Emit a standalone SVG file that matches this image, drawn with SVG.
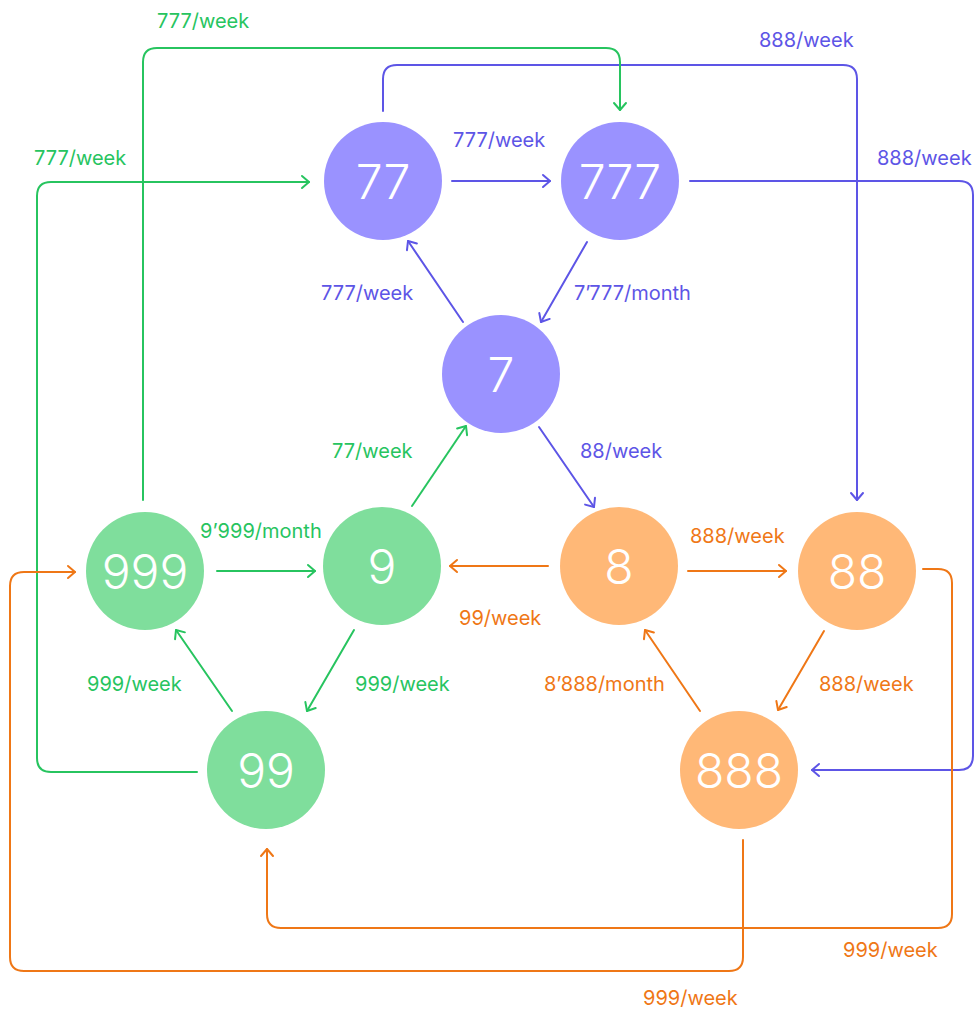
<svg xmlns="http://www.w3.org/2000/svg" width="975" height="1010" viewBox="0 0 975 1010">
<style>
  .lbl { font-family: Inter, "Liberation Sans", sans-serif; font-size: 20px; }
  .num { font-family: Inter, "Liberation Sans", sans-serif; font-size: 48px; font-weight: 300; fill: #ffffff; text-anchor: middle; }
  .p { stroke: #5D55E6; } .pt { fill: #5D55E6; }
  .g { stroke: #27C45F; } .gt { fill: #27C45F; }
  .o { stroke: #EF7716; } .ot { fill: #EF7716; }
  .c { fill: none; stroke-width: 2; stroke-linecap: round; stroke-linejoin: round; }
  .np { fill: #9A92FF; } .ng { fill: #7FDE9C; } .no { fill: #FFB877; }
</style>
<defs>
  <marker id="ap" markerUnits="userSpaceOnUse" markerWidth="20" markerHeight="20" refX="0" refY="0" viewBox="-10 -10 20 20" orient="auto" overflow="visible">
    <path d="M-7,-6 L0,0 L-7,6" fill="none" stroke="#5D55E6" stroke-width="2" stroke-linecap="round" stroke-linejoin="round"/>
  </marker>
  <marker id="ag" markerUnits="userSpaceOnUse" markerWidth="20" markerHeight="20" refX="0" refY="0" viewBox="-10 -10 20 20" orient="auto" overflow="visible">
    <path d="M-7,-6 L0,0 L-7,6" fill="none" stroke="#27C45F" stroke-width="2" stroke-linecap="round" stroke-linejoin="round"/>
  </marker>
  <marker id="ao" markerUnits="userSpaceOnUse" markerWidth="20" markerHeight="20" refX="0" refY="0" viewBox="-10 -10 20 20" orient="auto" overflow="visible">
    <path d="M-7,-6 L0,0 L-7,6" fill="none" stroke="#EF7716" stroke-width="2" stroke-linecap="round" stroke-linejoin="round"/>
  </marker>
</defs>
<rect width="975" height="1010" fill="#ffffff"/>

<g id="connectors">
  <!-- purple -->
  <path class="c p" d="M452,181 L550,181" marker-end="url(#ap)"/>
  <path class="c p" d="M587,242 L541,322" marker-end="url(#ap)"/>
  <path class="c p" d="M463,322 L408,241" marker-end="url(#ap)"/>
  <path class="c p" d="M539,427 L594,507" marker-end="url(#ap)"/>
  <path class="c p" d="M383,111 L383,79 Q383,65 397,65 L843,65 Q857,65 857,79 L857,500" marker-end="url(#ap)"/>
  <path class="c p" d="M690,181 L959,181 Q973,181 973,195 L973,756 Q973,770 959,770 L812,770" marker-end="url(#ap)"/>
  <!-- green -->
  <path class="c g" d="M217,571 L315,571" marker-end="url(#ag)"/>
  <path class="c g" d="M354,630 L307,711" marker-end="url(#ag)"/>
  <path class="c g" d="M232,711 L176,630" marker-end="url(#ag)"/>
  <path class="c g" d="M412,506 L466,426" marker-end="url(#ag)"/>
  <path class="c g" d="M143,500 L143,62 Q143,48 157,48 L606,48 Q620,48 620,62 L620,110" marker-end="url(#ag)"/>
  <path class="c g" d="M197,772 L51,772 Q37,772 37,758 L37,196 Q37,182 51,182 L309,182" marker-end="url(#ag)"/>
  <!-- orange -->
  <path class="c o" d="M548,566 L450,566" marker-end="url(#ao)"/>
  <path class="c o" d="M688,571 L786,571" marker-end="url(#ao)"/>
  <path class="c o" d="M824,631 L778,710" marker-end="url(#ao)"/>
  <path class="c o" d="M700,711 L645,630" marker-end="url(#ao)"/>
  <path class="c o" d="M923,569 L938,569 Q952,569 952,583 L952,914 Q952,928 938,928 L281,928 Q267,928 267,914 L267,849" marker-end="url(#ao)"/>
  <path class="c o" d="M743,840 L743,957 Q743,971 729,971 L24,971 Q10,971 10,957 L10,586 Q10,572 24,572 L75,572" marker-end="url(#ao)"/>
</g>

<g id="labels">
  <text class="lbl gt" x="157" y="28">777/week</text>
  <text class="lbl gt" x="34" y="165">777/week</text>
  <text class="lbl pt" x="759" y="47">888/week</text>
  <text class="lbl pt" x="877" y="165">888/week</text>
  <text class="lbl pt" x="453" y="147">777/week</text>
  <text class="lbl pt" x="321" y="300">777/week</text>
  <text class="lbl pt" x="574" y="300">7’777/month</text>
  <text class="lbl gt" x="332" y="458">77/week</text>
  <text class="lbl pt" x="580" y="458">88/week</text>
  <text class="lbl gt" x="200" y="538">9’999/month</text>
  <text class="lbl gt" x="87" y="691">999/week</text>
  <text class="lbl gt" x="355" y="691">999/week</text>
  <text class="lbl ot" x="690" y="543">888/week</text>
  <text class="lbl ot" x="459" y="625">99/week</text>
  <text class="lbl ot" x="544" y="691">8’888/month</text>
  <text class="lbl ot" x="819" y="691">888/week</text>
  <text class="lbl ot" x="843" y="957">999/week</text>
  <text class="lbl ot" x="643" y="1005">999/week</text>
</g>

<g id="node-77"><circle class="np" cx="383" cy="181" r="59"/><text class="num" x="383" y="199">77</text></g>
<g id="node-777"><circle class="np" cx="620" cy="181" r="59"/><text class="num" x="620" y="199">777</text></g>
<g id="node-7"><circle class="np" cx="501" cy="374" r="59"/><text class="num" x="501" y="392">7</text></g>
<g id="node-999"><circle class="ng" cx="145" cy="571" r="59"/><text class="num" x="145" y="589">999</text></g>
<g id="node-9"><circle class="ng" cx="382" cy="566" r="59"/><text class="num" x="382" y="584">9</text></g>
<g id="node-99"><circle class="ng" cx="266" cy="770" r="59"/><text class="num" x="266" y="788">99</text></g>
<g id="node-8"><circle class="no" cx="619" cy="566" r="59"/><text class="num" x="619" y="584">8</text></g>
<g id="node-88"><circle class="no" cx="857" cy="571" r="59"/><text class="num" x="857" y="589">88</text></g>
<g id="node-888"><circle class="no" cx="739" cy="770" r="59"/><text class="num" x="739" y="788">888</text></g>
</svg>
